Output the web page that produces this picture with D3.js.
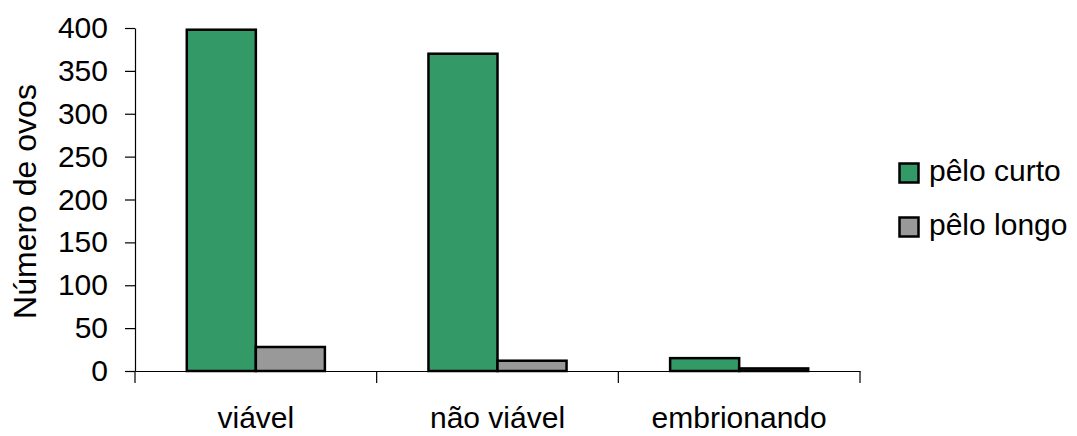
<!DOCTYPE html>
<html><head><meta charset="utf-8">
<script src="https://cdn.jsdelivr.net/npm/d3@7"></script>
<style>body{margin:0;background:#fff}svg{display:block}text{font-family:"Liberation Sans",Arial,sans-serif;fill:#000}</style>
</head><body><svg id="c" width="1077" height="436"></svg>
<script>
const categories = ["viável", "não viável", "embrionando"];
const seriesNames = ["pêlo curto", "pêlo longo"];
const peloCurto = [398, 370, 15];
const peloLongo = [28, 12, 3];
const yTicks = [0, 50, 100, 150, 200, 250, 300, 350, 400];
const colors = ["#339966", "#999999"];

const FS = "30px";
const svg = d3.select("#c");
const pLeft = 135, pRight = 860, pTop = 28, pBottom = 371;
const x = d3.scaleBand().domain(categories).range([pLeft, pRight]).paddingInner(0).paddingOuter(0);
const y = d3.scaleLinear().domain([0, 400]).range([pBottom, pTop]);
const bw = x.bandwidth() / 3.5;
const xs = d3.scaleBand().domain(seriesNames).range([0.75 * bw, 2.75 * bw]).padding(0);

const data = categories.map((c, i) => ({cat: c, vals: [peloCurto[i], peloLongo[i]]}));

const g = svg.append("g");
data.forEach(d => {
  d.vals.forEach((v, j) => {
    g.append("rect")
      .attr("x", x(d.cat) + xs(seriesNames[j]))
      .attr("y", y(v))
      .attr("width", xs.bandwidth())
      .attr("height", y(0) - y(v))
      .attr("fill", colors[j])
      .attr("stroke", "#000").attr("stroke-width", 2.5);
  });
});

// Y axis
const ya = svg.append("g").attr("transform", `translate(${pLeft},0)`)
  .call(d3.axisLeft(y).tickValues(yTicks).tickSize(10).tickPadding(17).tickSizeOuter(0));
ya.select(".domain").attr("stroke", "#000").attr("stroke-width", 1.2);
ya.selectAll(".tick line").attr("stroke", "#000").attr("stroke-width", 1.2);
ya.selectAll("text").style("font-size", FS).attr("fill", "#000");

// X axis
const xa = svg.append("g").attr("transform", `translate(0,${pBottom})`)
  .call(d3.axisBottom(x).tickSize(0).tickPadding(36).tickSizeOuter(0));
xa.select(".domain").attr("stroke", "#000").attr("stroke-width", 1.2);
xa.selectAll("text").style("font-size", FS).attr("fill", "#000");
// category separator ticks
const sep = categories.map(c => x(c)).concat([pRight]);
svg.append("g").selectAll("line").data(sep).join("line")
  .attr("x1", d => d).attr("x2", d => d)
  .attr("y1", pBottom).attr("y2", pBottom + 12)
  .attr("stroke", "#000").attr("stroke-width", 1.2);

// Axis title
svg.append("text")
  .attr("transform", `translate(36,${(pTop + pBottom) / 2 + 2}) rotate(-90)`)
  .attr("text-anchor", "middle")
  .style("font-size", "32px")
  .text("Número de ovos");

// Legend
const lg = svg.append("g");
seriesNames.forEach((s, j) => {
  const cy = 173 + j * 54;
  lg.append("rect").attr("x", 899.5).attr("y", cy - 9.5).attr("width", 19).attr("height", 19)
    .attr("fill", colors[j]).attr("stroke", "#000").attr("stroke-width", 2.5);
  lg.append("text").attr("x", 929).attr("y", cy + 8).style("font-size", FS).text(s);
});
</script></body></html>
